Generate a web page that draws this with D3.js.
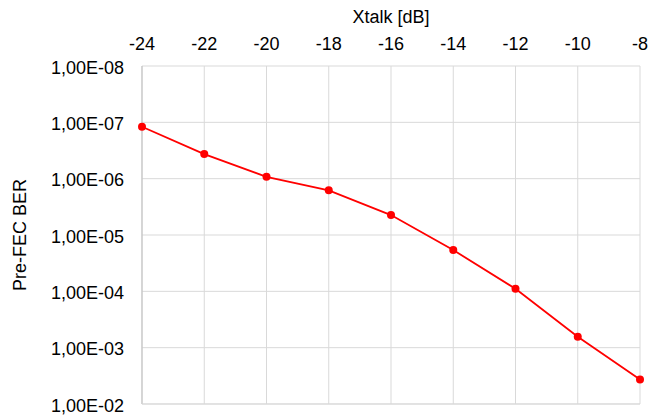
<!DOCTYPE html>
<html><head><meta charset="utf-8">
<script src="https://cdn.jsdelivr.net/npm/d3@7"></script>
<style>body{margin:0;background:#fff}text{font-family:"Liberation Sans",Arial,sans-serif}</style>
</head><body><svg id="c" width="650" height="420"></svg>
<script>
const xtalk = [-24,-22,-20,-18,-16,-14,-12,-10,-8];
const ber = [1.2e-7,3.66e-7,9.25e-7,1.61e-6,4.43e-6,1.85e-5,9.0e-5,6.4e-4,3.67e-3];
const xTicks = [-24,-22,-20,-18,-16,-14,-12,-10,-8];
const yTicks = [1e-8,1e-7,1e-6,1e-5,1e-4,1e-3,1e-2];
const xTitle = "Xtalk [dB]";
const yTitle = "Pre-FEC BER";

const svg = d3.select("#c");
const L=142,R=640,T=66,B=404;
const x = d3.scaleLinear().domain([-24,-8]).range([L,R]);
const y = d3.scaleLog().domain([1e-8,1e-2]).range([T,B]);
const fmt = v => { const e = Math.round(Math.log10(v)); const s = e<0?"-":"+"; return "1,00E"+s+String(Math.abs(e)).padStart(2,"0"); };

const g = svg.append("g");
g.selectAll("line.vx").data(xTicks).join("line").attr("x1",d=>x(d)).attr("x2",d=>x(d)).attr("y1",T).attr("y2",B).attr("stroke","#d9d9d9").attr("stroke-width",1);
g.selectAll("line.hy").data(yTicks).join("line").attr("x1",L).attr("x2",R).attr("y1",d=>y(d)).attr("y2",d=>y(d)).attr("stroke","#d9d9d9").attr("stroke-width",1);
g.append("line").attr("x1",L).attr("x2",L).attr("y1",T).attr("y2",B).attr("stroke","#bfbfbf");
g.append("line").attr("x1",L).attr("x2",R).attr("y1",B).attr("y2",B).attr("stroke","#d9d9d9");

g.selectAll("text.xt").data(xTicks).join("text").attr("x",d=>x(d)).attr("y",50).attr("text-anchor","middle").attr("font-size",18).attr("fill","#000").text(d=>d);
g.selectAll("text.yt").data(yTicks).join("text").attr("x",124).attr("y",d=>y(d)+7.5).attr("text-anchor","end").attr("font-size",18).attr("fill","#000").text(fmt);
svg.append("text").attr("x",x(-16)).attr("y",23).attr("text-anchor","middle").attr("font-size",18).text(xTitle);
svg.append("text").attr("transform",`translate(26,235) rotate(-90)`).attr("text-anchor","middle").attr("font-size",18).text(yTitle);

const pts = xtalk.map((v,i)=>[v,ber[i]]);
svg.append("path").datum(pts).attr("fill","none").attr("stroke","#ff0000").attr("stroke-width",1.8)
  .attr("d",d3.line().x(d=>x(d[0])).y(d=>y(d[1])));
svg.selectAll("circle").data(pts).join("circle").attr("cx",d=>x(d[0])).attr("cy",d=>y(d[1])).attr("r",4).attr("fill","#ff0000");
</script></body></html>
